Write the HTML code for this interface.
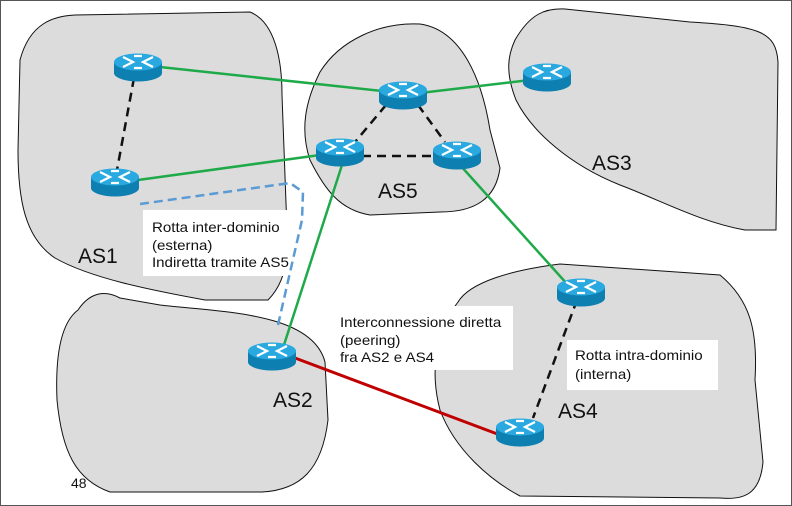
<!DOCTYPE html>
<html><head><style>
body{margin:0;background:#fff}
svg{display:block}
text{font-family:"Liberation Sans",sans-serif}
</style></head><body>
<svg width="792" height="506" viewBox="0 0 792 506" xmlns="http://www.w3.org/2000/svg">
<defs>
<g id="r">
<path d="M-24,0 v11 a24,8.5 0 0 0 48,0 v-11 z" fill="#0d7fb0"/>
<ellipse cx="0" cy="0" rx="24" ry="8.5" fill="#2aa9e0"/>
<g stroke="#fff" stroke-width="2.2" fill="none">
<path d="M-15,-5 l10,5 l-10,5 M15,-5 l-10,5 l10,5 M-4,-6 l8,0 M-4,6 l8,0"/>
</g>
</g>
</defs>
<rect x="0.5" y="0.5" width="791" height="505" fill="#fff" stroke="#555"/>
<g fill="#dcdcdc" stroke="#111" stroke-width="1">
<path d="M20,60 C30,22 55,16 75,15 L250,12 C275,22 282,60 282,95 L287,230 C290,268 280,288 268,300 L205,300 C150,290 90,278 55,258 C25,238 18,200 18,150 Z"/>
<path d="M320,72 C340,40 380,22 420,24 C462,30 482,80 490,130 L500,168 C496,198 476,212 440,212 L370,215 C340,210 325,190 310,160 C300,130 305,102 320,72 Z"/>
<path d="M515,40 C530,14 545,8 565,9 L690,22 C760,26 776,32 778,62 L776,230 L745,230 C700,222 660,200 620,185 C570,165 532,132 516,100 C505,72 508,55 515,40 Z"/>
<path d="M78,310 C90,292 105,290 120,298 L160,305 C220,312 312,312 325,362 L328,420 C322,470 300,490 262,492 L110,492 C76,480 62,452 57,400 C55,352 62,322 78,310 Z"/>
<path d="M458,302 C470,282 512,270 560,264 L720,275 C750,300 758,330 755,380 L763,462 C760,496 742,500 720,498 L520,496 C490,480 455,450 440,410 C430,372 435,332 458,302 Z"/>
</g>
<rect x="143" y="210" width="150" height="66" fill="#fff"/>
<rect x="335" y="306" width="178" height="64" fill="#fff"/>
<rect x="567" y="340" width="151" height="50" fill="#fff"/>
<path d="M140,204 L290,183 L303,192 L302,220 L278,325" fill="none" stroke="#5b9bd5" stroke-width="2.5" stroke-dasharray="9,5"/>
<g stroke="#1faa4a" stroke-width="2.5" fill="none">
<line x1="160" y1="67" x2="400" y2="93"/>
<line x1="420" y1="93" x2="530" y2="80"/>
<line x1="138" y1="180" x2="320" y2="155"/>
<line x1="342" y1="165" x2="283" y2="348"/>
<line x1="460" y1="165" x2="568" y2="285"/>
</g>
<line x1="295" y1="358" x2="500" y2="435" stroke="#c00000" stroke-width="3"/>
<g stroke="#111" stroke-width="2.5" stroke-dasharray="9,6" fill="none">
<line x1="134" y1="78" x2="117" y2="170"/>
<line x1="386" y1="105" x2="355" y2="142"/>
<line x1="418" y1="105" x2="445" y2="142"/>
<line x1="362" y1="156" x2="432" y2="156"/>
<line x1="577" y1="300" x2="533" y2="418"/>
</g>
<use href="#r" x="138" y="62"/>
<use href="#r" x="115" y="177"/>
<use href="#r" x="403" y="90"/>
<use href="#r" x="340" y="147"/>
<use href="#r" x="457" y="150"/>
<use href="#r" x="547" y="72"/>
<use href="#r" x="581" y="287"/>
<use href="#r" x="272" y="351"/>
<use href="#r" x="520" y="427"/>
<g font-size="21" fill="#111">
<text x="78" y="263">AS1</text>
<text x="378" y="198">AS5</text>
<text x="592" y="170">AS3</text>
<text x="273" y="407">AS2</text>
<text x="558" y="418">AS4</text>
</g>
<g font-size="14" fill="#111" transform="scale(1.08,1)">
<text x="140.7" y="232">Rotta inter-dominio</text>
<text x="140.7" y="250">(esterna)</text>
<text x="140.7" y="267">Indiretta tramite AS5</text>
<text x="314.8" y="327">Interconnessione diretta</text>
<text x="314.8" y="345">(peering)</text>
<text x="314.8" y="362">fra AS2 e AS4</text>
<text x="532.4" y="360">Rotta intra-dominio</text>
<text x="532.4" y="379">(interna)</text>
</g>
<text x="71" y="488" font-size="14" fill="#111">48</text>
</svg>
</body></html>
